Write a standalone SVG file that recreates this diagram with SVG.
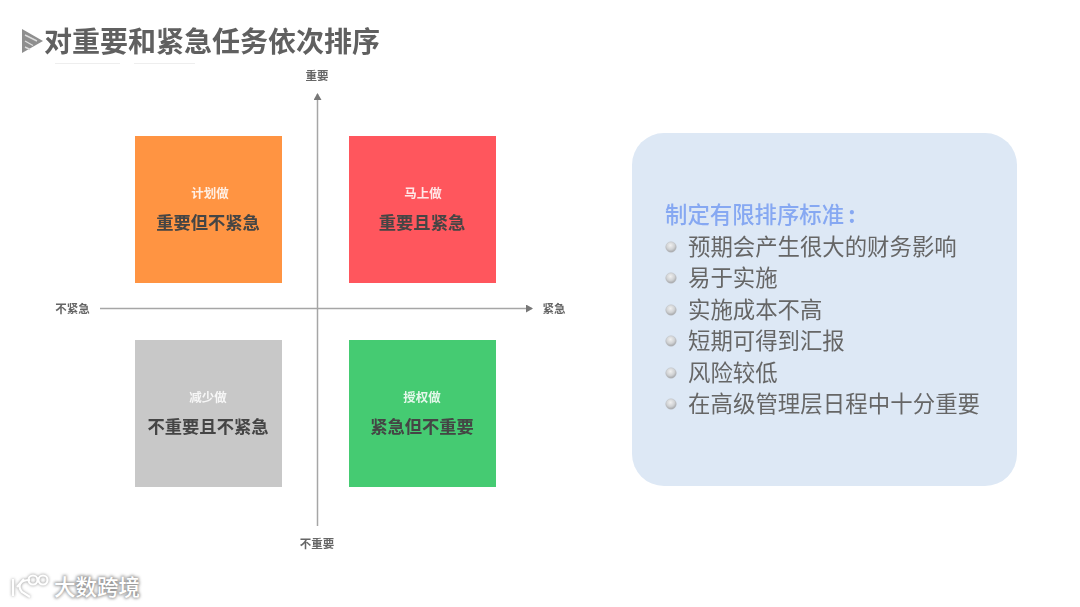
<svg xmlns="http://www.w3.org/2000/svg" width="1080" height="607" viewBox="0 0 1080 607">
<defs>
<filter id="soft" x="-5%" y="-5%" width="110%" height="110%"><feGaussianBlur stdDeviation="0.55"/></filter>
<filter id="glow" x="-20%" y="-30%" width="140%" height="160%"><feGaussianBlur stdDeviation="1.6"/></filter>
<radialGradient id="ball" cx="45%" cy="35%" r="65%"><stop offset="0" stop-color="#f0f0f0"/><stop offset="0.6" stop-color="#cfd1d3"/><stop offset="1" stop-color="#a0a2a5"/></radialGradient>
<marker id="arrow" markerWidth="8" markerHeight="8" refX="6" refY="4" orient="auto" markerUnits="userSpaceOnUse"><path d="M0 0L7 4L0 8Z" fill="#777"/></marker>
</defs>
<style>
text{font-family:"Noto Sans CJK SC","Liberation Sans",sans-serif}
.axis{font-size:11.5px;fill:#666;font-weight:700;text-anchor:middle}
.q1{font-size:12.5px;font-weight:700;text-anchor:middle;fill:#fff;fill-opacity:.85}
.q2{font-size:17.3px;font-weight:700;text-anchor:middle;fill:#444}
.li{font-size:22.4px;fill:#666}
.wm{font-size:21.5px;font-weight:500}
</style>
<rect width="1080" height="607" fill="#fff"/>
<g id="title" filter="url(#soft)">
<path d="M22 29L43 41L22 53Z" fill="#8f8f8f"/>
<path d="M25 35L37 41M25 41L33 45.500M25 47L30 49.500" stroke="#ddd" stroke-width="1.400" fill="none"/>
<text x="44" y="52" font-size="28" font-weight="700" fill="#606060">对重要和紧急任务依次排序</text>
<path d="M55 63.500H120M134 63.500H195" stroke="#eeeeee" stroke-width="1"/>
</g>
<g id="connectors" filter="url(#soft)">
<line x1="317.500" y1="526" x2="317.500" y2="94" stroke="#a6a6a6" stroke-width="1.500" marker-end="url(#arrow)"/>
<line x1="100" y1="308.500" x2="532" y2="308.500" stroke="#a6a6a6" stroke-width="1.500" marker-end="url(#arrow)"/>
</g>
<g id="axis-labels" filter="url(#soft)">
<text class="axis" x="317" y="80">重要</text>
<text class="axis" x="317" y="548">不重要</text>
<text class="axis" x="72.500" y="313">不紧急</text>
<text class="axis" x="554" y="313">紧急</text>
</g>
<g id="node-plan" filter="url(#soft)">
<rect x="135" y="136" width="147" height="147" fill="#ff9443"/>
<text class="q1" x="210" y="198">计划做</text>
<text class="q2" x="208" y="229">重要但不紧急</text>
</g>
<g id="node-now" filter="url(#soft)">
<rect x="349" y="136" width="147" height="147" fill="#ff575d"/>
<text class="q1" x="423" y="198">马上做</text>
<text class="q2" x="422" y="229">重要且紧急</text>
</g>
<g id="node-less" filter="url(#soft)">
<rect x="135" y="340" width="147" height="147" fill="#c8c8c8"/>
<text class="q1" x="208" y="402">减少做</text>
<text class="q2" x="208" y="433">不重要且不紧急</text>
</g>
<g id="node-delegate" filter="url(#soft)">
<rect x="349" y="340" width="147" height="147" fill="#45cb72"/>
<text class="q1" x="422" y="402">授权做</text>
<text class="q2" x="422" y="433">紧急但不重要</text>
</g>
<g id="node-criteria">
<rect x="632" y="133" width="385" height="353" rx="32" fill="#dde8f5"/>
<g filter="url(#soft)">
<text x="665" y="223" font-size="22.400" font-weight="500" fill="#86a8f2">制定有限排序标准<tspan dx="4" font-weight="700">:</tspan></text>
<g fill="url(#ball)" stroke="#bcbec2" stroke-width="0.500">
<circle cx="671" cy="247" r="5.300"/><circle cx="671" cy="278" r="5.300"/><circle cx="671" cy="310" r="5.300"/><circle cx="671" cy="341" r="5.300"/><circle cx="671" cy="373" r="5.300"/><circle cx="671" cy="404" r="5.300"/>
</g>
<text class="li" x="688" y="255">预期会产生很大的财务影响</text>
<text class="li" x="688" y="286">易于实施</text>
<text class="li" x="688" y="318">实施成本不高</text>
<text class="li" x="688" y="349">短期可得到汇报</text>
<text class="li" x="688" y="381">风险较低</text>
<text class="li" x="688" y="412" textLength="292">在高级管理层日程中十分重要</text>
</g>
</g>
<g id="watermark">
<g filter="url(#glow)" fill="none" stroke="#9a9a9a" stroke-width="2.500">
<path d="M13 579V596M30 580C20 580 17 586 22 592L30 597M17 587L24 579"/>
<circle cx="33" cy="580" r="4.500"/><circle cx="43" cy="580" r="4.500"/>
<text class="wm" x="54" y="595" stroke-width="2">大数跨境</text>
</g>
<g fill="none" stroke="#fff" stroke-width="2.200">
<path d="M13 579V596M30 580C20 580 17 586 22 592L30 597M17 587L24 579"/>
<circle cx="33" cy="580" r="4.500"/><circle cx="43" cy="580" r="4.500"/>
</g>
<text class="wm" x="54" y="595" fill="#fff">大数跨境</text>
</g>
</svg>
